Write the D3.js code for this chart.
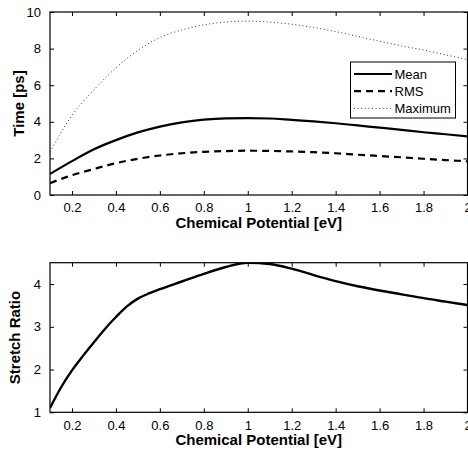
<!DOCTYPE html>
<html>
<head>
<meta charset="utf-8">
<script src="https://cdn.jsdelivr.net/npm/d3@7"></script>
<style>
body { margin: 0; background: #fff; }
text { font-family: "Liberation Sans", Arial, sans-serif; fill: #000; }
</style>
</head>
<body>
<div id="chart"></div>
<script>
// values
var mu = [0.1, 0.2, 0.3, 0.4, 0.5, 0.6, 0.7, 0.8, 0.9, 1.0, 1.1, 1.2, 1.3, 1.4, 1.5, 1.6, 1.7, 1.8, 1.9, 2.0];
var meanT = [1.15, 1.85, 2.5, 3.0, 3.42, 3.74, 3.97, 4.12, 4.19, 4.2, 4.18, 4.1, 4.02, 3.92, 3.8, 3.68, 3.56, 3.43, 3.32, 3.2];
var rmsT = [0.65, 1.08, 1.42, 1.74, 1.98, 2.16, 2.28, 2.36, 2.4, 2.42, 2.41, 2.38, 2.34, 2.28, 2.2, 2.13, 2.06, 1.98, 1.91, 1.84];
var maxT = [2.35, 4.35, 5.75, 6.95, 7.9, 8.6, 9.02, 9.3, 9.45, 9.5, 9.45, 9.33, 9.15, 8.93, 8.67, 8.4, 8.15, 7.92, 7.66, 7.4];

var muS = [0.1, 0.15, 0.2, 0.25, 0.3, 0.35, 0.4, 0.45, 0.5, 0.55, 0.6, 0.7, 0.8, 0.9, 1.0, 1.1, 1.2, 1.3, 1.4, 1.5, 1.6, 1.7, 1.8, 1.9, 2.0];
var stretch = [1.1, 1.58, 1.98, 2.32, 2.64, 2.95, 3.23, 3.48, 3.66, 3.78, 3.88, 4.06, 4.24, 4.4, 4.5, 4.47, 4.36, 4.21, 4.07, 3.95, 3.85, 3.76, 3.67, 3.59, 3.51];

var xTicks = [0.2, 0.4, 0.6, 0.8, 1, 1.2, 1.4, 1.6, 1.8, 2];
var yTicksTop = [0, 2, 4, 6, 8, 10];
var yTicksBot = [1, 2, 3, 4];
var seriesNames = ["Mean", "RMS", "Maximum"];

var w = 468, h = 451;
var svg = d3.select("#chart").append("svg")
	.attr("width", w)
	.attr("height", h);

var left = 50, right = 467.5;

function panel(top, bottom, yDomain, yTicks, yLabel, labelX) {
	var x = d3.scaleLinear().domain([0.1, 2]).range([left, right]);
	var y = d3.scaleLinear().domain(yDomain).range([bottom, top]);
	var g = svg.append("g");

	// ticks on all four sides, pointing in
	g.append("g").attr("transform", "translate(0," + bottom + ")")
		.call(d3.axisBottom(x).tickValues(xTicks).tickSizeInner(-4).tickSizeOuter(0).tickPadding(8)
			.tickFormat(d3.format("")));
	g.append("g").attr("transform", "translate(0," + top + ")")
		.call(d3.axisTop(x).tickValues(xTicks).tickSizeInner(-4).tickSizeOuter(0).tickFormat(""));
	g.append("g").attr("transform", "translate(" + left + ",0)")
		.call(d3.axisLeft(y).tickValues(yTicks).tickSizeInner(-4).tickSizeOuter(0).tickPadding(9)
			.tickFormat(d3.format("")));
	g.append("g").attr("transform", "translate(" + right + ",0)")
		.call(d3.axisRight(y).tickValues(yTicks).tickSizeInner(-4).tickSizeOuter(0).tickFormat(""));
	g.selectAll(".domain").remove();
	g.selectAll(".tick line").attr("stroke", "#000");
	g.selectAll(".tick text").attr("font-size", 13).attr("fill", "#000");

	g.append("rect")
		.attr("x", left).attr("y", top)
		.attr("width", right - left).attr("height", bottom - top)
		.attr("fill", "none").attr("stroke", "#000").attr("stroke-width", 1.2);

	g.append("text")
		.attr("x", (left + right) / 2).attr("y", bottom + 33)
		.attr("text-anchor", "middle")
		.attr("font-size", 15).attr("font-weight", "bold")
		.text("Chemical Potential [eV]");
	g.append("text")
		.attr("transform", "translate(" + labelX + "," + (top + bottom) / 2 + ") rotate(-90)")
		.attr("text-anchor", "middle")
		.attr("font-size", 15).attr("font-weight", "bold")
		.text(yLabel);

	var clip = "clip" + Math.round(top);
	svg.append("clipPath").attr("id", clip).append("rect")
		.attr("x", left).attr("y", top).attr("width", right - left).attr("height", bottom - top);
	var lines = svg.append("g").attr("clip-path", "url(#" + clip + ")");
	return { x: x, y: y, g: lines };
}

var p1 = panel(12, 195, [0, 10], yTicksTop, "Time [ps]", 24);
var styles = [
	{ width: 2.2, dash: null, color: "#000" },
	{ width: 2.2, dash: "7,5", color: "#000" },
	{ width: 1, dash: "1,2.6", color: "#333" }
];
[meanT, rmsT, maxT].forEach(function(vals, k) {
	var line = d3.line()
		.x(function(d, i) { return p1.x(mu[i]); })
		.y(function(d) { return p1.y(d); })
		.curve(d3.curveMonotoneX);
	p1.g.append("path")
		.datum(vals)
		.attr("d", line)
		.attr("fill", "none")
		.attr("stroke", styles[k].color)
		.attr("stroke-width", styles[k].width)
		.attr("stroke-dasharray", styles[k].dash);
});

// legend
var lg = svg.append("g");
lg.append("rect")
	.attr("x", 350.5).attr("y", 62).attr("width", 105).attr("height", 56)
	.attr("fill", "#fff").attr("stroke", "#000").attr("stroke-width", 1);
seriesNames.forEach(function(name, k) {
	var yy = 74 + k * 17.2;
	lg.append("line")
		.attr("x1", 354).attr("x2", 392).attr("y1", yy).attr("y2", yy)
		.attr("stroke", styles[k].color)
		.attr("stroke-width", styles[k].width)
		.attr("stroke-dasharray", styles[k].dash);
	lg.append("text")
		.attr("x", 394.5).attr("y", yy + 4.5)
		.attr("font-size", 13)
		.text(name);
});

var p2 = panel(262.7, 412.3, [1, 4.5], yTicksBot, "Stretch Ratio", 19.5);
p2.g.append("path")
	.datum(stretch)
	.attr("d", d3.line()
		.x(function(d, i) { return p2.x(muS[i]); })
		.y(function(d) { return p2.y(d); })
		.curve(d3.curveMonotoneX))
	.attr("fill", "none")
	.attr("stroke", "#000")
	.attr("stroke-width", 2.4);
</script>
</body>
</html>
